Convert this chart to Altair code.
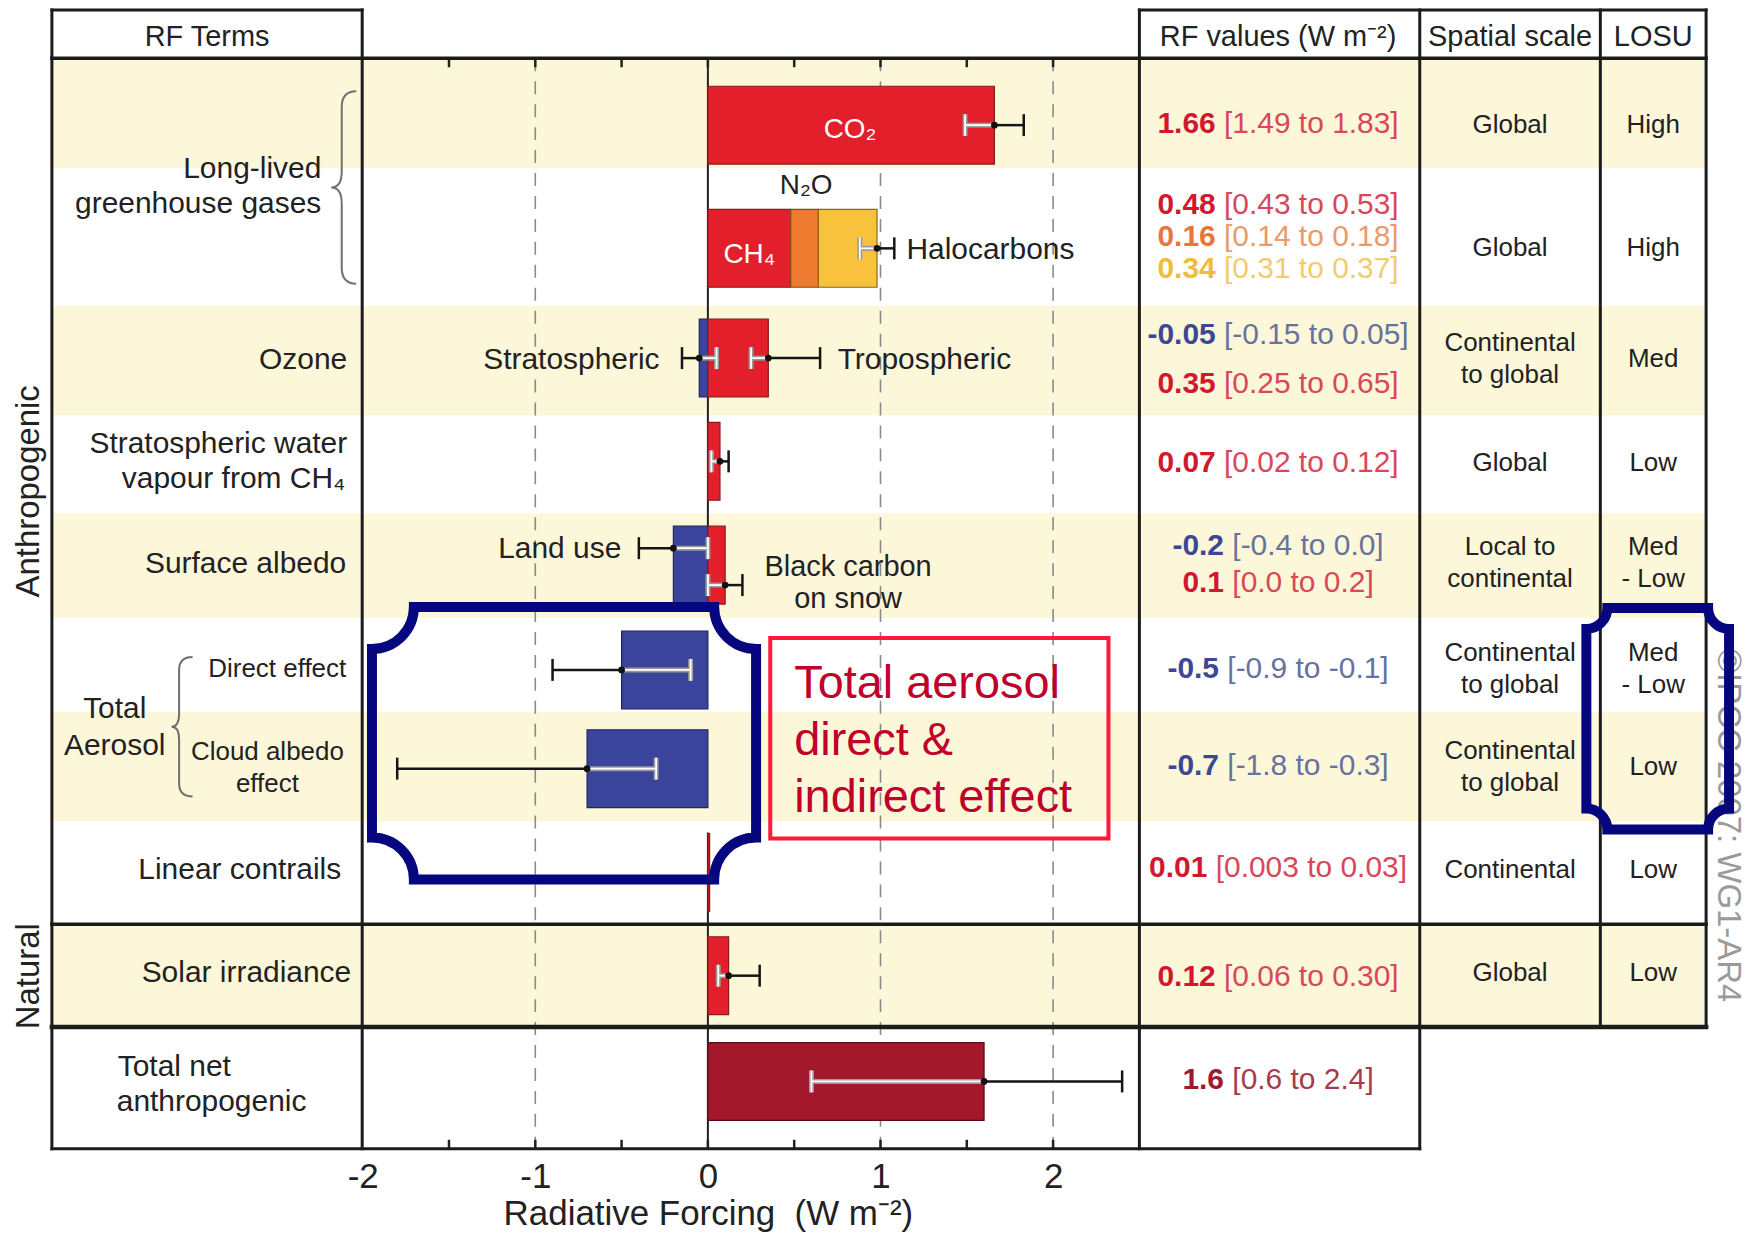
import altair as alt
import pandas as pd

# ------------------------------------------------------------------ data
terms = ["CO2", "CH4", "N2O", "Halocarbons", "Stratospheric ozone", "Tropospheric ozone",
         "Stratospheric water vapour from CH4", "Land use (surface albedo)",
         "Black carbon on snow (surface albedo)", "Aerosol direct effect",
         "Aerosol cloud albedo effect", "Linear contrails", "Solar irradiance",
         "Total net anthropogenic"]
rf_best = [1.66, 0.48, 0.16, 0.34, -0.05, 0.35, 0.07, -0.2, 0.1, -0.5, -0.7, 0.01, 0.12, 1.6]
rf_low = [1.49, 0.43, 0.14, 0.31, -0.15, 0.25, 0.02, -0.4, 0.0, -0.9, -1.8, 0.003, 0.06, 0.6]
rf_high = [1.83, 0.53, 0.18, 0.37, 0.05, 0.65, 0.12, 0.0, 0.2, -0.1, -0.3, 0.03, 0.30, 2.4]
rf_best_labels = ["1.66", "0.48", "0.16", "0.34", "-0.05", "0.35", "0.07", "-0.2", "0.1",
                  "-0.5", "-0.7", "0.01", "0.12", "1.6"]
rf_range_labels = ["[1.49 to 1.83]", "[0.43 to 0.53]", "[0.14 to 0.18]", "[0.31 to 0.37]",
                   "[-0.15 to 0.05]", "[0.25 to 0.65]", "[0.02 to 0.12]", "[-0.4 to 0.0]",
                   "[0.0 to 0.2]", "[-0.9 to -0.1]", "[-1.8 to -0.3]", "[0.003 to 0.03]",
                   "[0.06 to 0.30]", "[0.6 to 2.4]"]
term_row = [0, 1, 1, 1, 2, 2, 3, 4, 4, 5, 6, 7, 8, 9]
term_colour = ["red", "red", "orange", "yellow", "blue", "red", "red", "blue", "red",
               "blue", "blue", "red", "red", "darkred"]
term_whisker = [True, True, True, True, True, True, True, True, True, True, True, False, True, True]

spatial_scale = ["Global", "Global", "Continental\nto global", "Global", "Local to\ncontinental",
                 "Continental\nto global", "Continental\nto global", "Continental", "Global"]
losu = ["High", "High", "Med", "Low", "Med\n- Low", "Med\n- Low", "Low", "Low", "Low"]

headers = ["RF Terms", "RF values (W m⁻²)", "Spatial scale", "LOSU"]
left_labels = ["Long-lived", "greenhouse gases", "Ozone", "Stratospheric water", "vapour from CH₄",
               "Surface albedo", "Direct effect", "Total", "Aerosol", "Cloud albedo", "effect",
               "Linear contrails", "Solar irradiance", "Total net", "anthropogenic"]
group_labels = ["Anthropogenic", "Natural"]
plot_labels = ["CO₂", "N₂O", "CH₄", "Halocarbons", "Stratospheric", "Tropospheric", "Land use",
               "Black carbon", "on snow"]
note_lines = ["Total aerosol", "direct &", "indirect effect"]
watermark = "©IPCC 2007: WG1-AR4"
x_axis_values = [-2, -1, 0, 1, 2]
x_minor_ticks = [-1.5, -1, -0.5, 0, 0.5, 1, 1.5, 2]
grid_dashed = [-1, 1, 2]
x_title = "Radiative Forcing \u00a0(W m⁻²)"

# ------------------------------------------------------------------ layout / style
FONT = "Liberation Sans, Arial, Helvetica, sans-serif"
PX0, PXU = 709.5, 173.0          # page x of 0 W m-2, pixels per W m-2
CHART_W, CHART_H = 1745, 1224


def W(px):
    return (px - PX0) / PXU


X_DOMAIN = [W(8), W(8 + CHART_W)]
Y_DOMAIN = [8, 8 + CHART_H]

ROW_TOP = [57, 167, 305, 415, 513, 618, 712, 822, 925, 1028]
ROW_BOT = [167, 305, 415, 513, 618, 712, 822, 925, 1028, 1150]
ROW_YELLOW = [True, False, True, False, True, False, True, False, True, False]
BAR_MID = [124, 247.5, 357.5, 461, 565, 670, 769, 873, 976.5, 1082.5]
BAR_HALF = 39
TEXT_MID = [123, 246, 357, 461, 562, 668, 766, 869, 973]
WHISKER_DY = [0, 0, 0, 0, 0, 0, 0, -17, 20, 0, 0, 0, 0, 0]
RF_BASE = [132, 213, 245, 277, 343, 392, 472, 555, 592, 678, 775, 878, 987, 1090]
TABLE_L, COL_PLOT_L, COL_RF_L, COL_SP_L, COL_LOSU_L, TABLE_R = 52, 363, 1142, 1423, 1604, 1710
TOP_Y, HEAD_Y, NAT_Y, NET_Y, BOT_Y = 8.5, 57, 925, 1028, 1150
RF_CENTER, SP_CENTER, LOSU_CENTER = 1281, 1513.5, 1657

YELLOW = "#fcf7d9"
INK = "#222222"
BAR_FILL = {"red": "#e21f2a", "orange": "#ef7b31", "yellow": "#f8c23c", "blue": "#3b449b", "darkred": "#a3182b"}
BAR_EDGE = {"red": "#8c1a1a", "orange": "#8c4a1a", "yellow": "#8c6a1a", "blue": "#1e2560", "darkred": "#5e0c16"}
RF_BOLD = {"red": "#d1182f", "orange": "#e5763c", "yellow": "#efbd3b", "blue": "#3c4893", "darkred": "#9e1a2e"}
RF_RANGE = {"red": "#d8475a", "orange": "#ea9a6b", "yellow": "#f2cc6e", "blue": "#68729e", "darkred": "#a83a4c"}
NAVY = "#06067e"

XS = alt.Scale(domain=X_DOMAIN, nice=False, zero=False)
YS = alt.Scale(domain=Y_DOMAIN, nice=False, zero=False, reverse=True)
# bottom axis drawn along the table's bottom edge (offset pulls it up from the plot bottom)
XAXIS = alt.Axis(values=x_axis_values, labelExpr="'' + datum.value", ticks=False, tickSize=0,
                 domain=False, grid=False, labelFont=FONT, labelFontSize=35, labelColor="#222222",
                 labelPadding=11, labelFlush=False, labelOverlap=False,
                 offset=BOT_Y - (8 + CHART_H),
                 title=x_title, titleFont=FONT, titleFontSize=35, titleFontWeight="normal",
                 titleColor="#222222", titleX=PX0 - 8, titleY=76, titleBaseline="alphabetic",
                 titleAlign="center")


def X(f):
    return alt.X(f, type="quantitative", scale=XS, axis=XAXIS)


def Y(f):
    return alt.Y(f, type="quantitative", scale=YS, axis=None)


# ------------------------------------------------------------------ backgrounds & lines
bg_df = pd.DataFrame([dict(x=W(TABLE_L), x2=W(TABLE_R), y=ROW_TOP[i], y2=ROW_BOT[i])
                      for i in range(len(ROW_TOP)) if ROW_YELLOW[i]])
bg = alt.Chart(bg_df).mark_rect(color=YELLOW).encode(x=X("x"), x2=alt.X2("x2"), y=Y("y"), y2=alt.Y2("y2"))

grid_df = pd.DataFrame([dict(x=g, y=HEAD_Y, y2=BOT_Y) for g in grid_dashed])
grid = alt.Chart(grid_df).mark_rule(color="#8a8a8a", strokeWidth=1.6, strokeDash=[13, 10]).encode(
    x=X("x"), y=Y("y"), y2=alt.Y2("y2"))

zero_df = pd.DataFrame([dict(x=0, y=HEAD_Y, y2=607), dict(x=0, y=833, y2=BOT_Y)])
zero = alt.Chart(zero_df).mark_rule(color=INK, strokeWidth=2).encode(x=X("x"), y=Y("y"), y2=alt.Y2("y2"))

tick_df = pd.DataFrame([dict(x=t, y=HEAD_Y, y2=HEAD_Y + 9) for t in x_minor_ticks] +
                       [dict(x=t, y=BOT_Y - 9, y2=BOT_Y) for t in x_minor_ticks])
ticks = alt.Chart(tick_df).mark_rule(color=INK, strokeWidth=2.5).encode(x=X("x"), y=Y("y"), y2=alt.Y2("y2"))

# ------------------------------------------------------------------ bars
bar_rows, cum = [], {}
groups = {}
for i, t in enumerate(terms):
    key = (term_row[i], rf_best[i] >= 0)
    s = cum.get(key, 0.0)
    e = s + rf_best[i]
    cum[key] = e
    r = term_row[i]
    bar_rows.append(dict(term=t, x=s, x2=e, y=BAR_MID[r] - BAR_HALF, y2=BAR_MID[r] + BAR_HALF,
                         fill=BAR_FILL[term_colour[i]], stroke=BAR_EDGE[term_colour[i]]))
    g = groups.setdefault(key, dict(best=0.0, low=0.0, high=0.0, show=True, y=BAR_MID[r] + WHISKER_DY[i]))
    g["best"] += rf_best[i]
    g["low"] += rf_low[i]
    g["high"] += rf_high[i]
    g["show"] = g["show"] and term_whisker[i]
bars = alt.Chart(pd.DataFrame(bar_rows)).mark_rect(strokeWidth=1.2).encode(
    x=X("x"), x2=alt.X2("x2"), y=Y("y"), y2=alt.Y2("y2"),
    fill=alt.Fill("fill:N", scale=None), stroke=alt.Stroke("stroke:N", scale=None))

# ------------------------------------------------------------------ whiskers
CAP = 11
dark_seg, light_seg, dots = [], [], []
for g in groups.values():
    if not g["show"]:
        continue
    b, lo, hi, y = round(g["best"], 3), round(g["low"], 3), round(g["high"], 3), g["y"]
    outer, inner = (lo, hi) if b < 0 else (hi, lo)
    dark_seg += [dict(x=b, x2=outer, y=y, y2=y), dict(x=outer, x2=outer, y=y - CAP, y2=y + CAP)]
    light_seg += [dict(x=b, x2=inner, y=y, y2=y), dict(x=inner, x2=inner, y=y - CAP, y2=y + CAP)]
    dots.append(dict(x=b, y=y))


def seg_layer(rows, colour, width):
    return alt.Chart(pd.DataFrame(rows)).mark_rule(color=colour, strokeWidth=width).encode(
        x=X("x"), x2=alt.X2("x2"), y=Y("y"), y2=alt.Y2("y2"))


light_a = seg_layer(light_seg, "#9a9a9a", 5)
light_b = seg_layer(light_seg, "#ffffff", 1.8)
dark = seg_layer(dark_seg, "#151515", 2.5)
dot = alt.Chart(pd.DataFrame(dots)).mark_point(filled=True, size=45, color="#111111", opacity=1).encode(
    x=X("x"), y=Y("y"))

# ------------------------------------------------------------------ table borders
border_rows = [
    dict(x=W(TABLE_L), x2=W(COL_PLOT_L), y=TOP_Y, y2=TOP_Y, w=3),
    dict(x=W(COL_RF_L), x2=W(TABLE_R), y=TOP_Y, y2=TOP_Y, w=3),
    dict(x=W(TABLE_L), x2=W(TABLE_R), y=HEAD_Y, y2=HEAD_Y, w=3.5),
    dict(x=W(TABLE_L), x2=W(TABLE_R), y=NAT_Y, y2=NAT_Y, w=3.5),
    dict(x=W(TABLE_L), x2=W(TABLE_R), y=NET_Y, y2=NET_Y, w=4.5),
    dict(x=W(TABLE_L), x2=W(COL_SP_L), y=BOT_Y, y2=BOT_Y, w=3),
]
for cx, bottom in [(TABLE_L, BOT_Y), (COL_PLOT_L, BOT_Y), (COL_RF_L, BOT_Y), (COL_SP_L, BOT_Y),
                   (COL_LOSU_L, NET_Y), (TABLE_R, NET_Y)]:
    border_rows.append(dict(x=W(cx), x2=W(cx), y=TOP_Y, y2=bottom, w=3))
borders = alt.Chart(pd.DataFrame(border_rows)).mark_rule(color="#1c1c1c", strokeCap="square").encode(
    x=X("x"), x2=alt.X2("x2"), y=Y("y"), y2=alt.Y2("y2"), strokeWidth=alt.StrokeWidth("w:Q", scale=None))

# ------------------------------------------------------------------ texts
texts = []


def add(t, xp, y, size, colour=INK, align="center", weight="normal", angle=0, baseline="alphabetic"):
    texts.append(dict(text=t, x=W(xp), y=y, size=size, color=colour, align=align,
                      weight=weight, angle=angle, baseline=baseline))


for h, xp in zip(headers, [(TABLE_L + COL_PLOT_L) / 2, RF_CENTER, SP_CENTER, LOSU_CENTER]):
    add(h, xp, 45, 29, "#222222")

left_layout = [(322, 177, 30, "right"), (322, 212, 30, "right"), (348, 368, 30, "right"),
               (348, 453, 30, "right"), (346, 488, 30, "right"), (347, 573, 30, "right"),
               (347, 677, 26, "right"), (115, 718, 30, "center"), (115, 755, 30, "center"),
               (268, 760, 26, "center"), (268, 792, 26, "center"), (342, 880, 30, "right"),
               (352, 983, 30, "right"), (118, 1077, 30, "left"), (117, 1112, 30, "left")]
for lab, (xp, y, s, a) in zip(left_labels, left_layout):
    add(lab, xp, y, s, align=a)

for lab, y in zip(group_labels, [491, 977]):
    add(lab, 29, y, 33, angle=270, baseline="middle")

plot_layout = [(852, 137, 28, "center", "#ffffff"), (808, 193, 28, "center", INK),
               (751, 262, 28, "center", "#ffffff"), (908.5, 258, 30, "left", INK),
               (661, 368, 30, "right", INK), (839.6, 368, 30, "left", INK),
               (622.7, 558, 30, "right", INK), (850, 576, 29, "center", INK),
               (850, 608, 29, "center", INK)]
for lab, (xp, y, s, a, c) in zip(plot_labels, plot_layout):
    add(lab, xp, y, s, c, align=a)

# RF value column: bold best estimate + range, centred together
REG = {".": .278, "[": .278, "]": .278, " ": .278, "t": .278, "o": .556, "-": .333}
RF_FS = 30


def width(s):
    return sum(REG.get(ch, .556) for ch in s) * RF_FS


for i in range(len(terms)):
    wb, wr, sp = width(rf_best_labels[i]), width(rf_range_labels[i]), .278 * RF_FS
    start = RF_CENTER - (wb + sp + wr) / 2
    add(rf_best_labels[i], start + wb, RF_BASE[i], RF_FS, RF_BOLD[term_colour[i]], align="right", weight="bold")
    add(rf_range_labels[i], start + wb + sp, RF_BASE[i], RF_FS, RF_RANGE[term_colour[i]], align="left")

LINE = 32
for col, xc in [(spatial_scale, SP_CENTER), (losu, LOSU_CENTER)]:
    for r, lab in enumerate(col):
        lines = lab.split("\n")
        for j, ln in enumerate(lines):
            add(ln, xc, TEXT_MID[r] + 9.3 - (len(lines) - 1) * LINE / 2 + j * LINE, 26)

for j, ln in enumerate(note_lines):
    add(ln, 796, 698 + 57 * j, 47, "#c0002b", align="left")

add(watermark, 1732, 826, 33, "#9a9a9a", angle=90, baseline="middle")

tdf = pd.DataFrame(texts)
text_layers = []
for (a, wgt, bl), sub in tdf.groupby(["align", "weight", "baseline"]):
    text_layers.append(alt.Chart(sub).mark_text(align=a, baseline=bl, font=FONT, fontWeight=wgt).encode(
        x=X("x"), y=Y("y"), text="text:N", color=alt.Color("color:N", scale=None),
        size=alt.Size("size:Q", scale=None), angle=alt.Angle("angle:Q", scale=None)))


# ------------------------------------------------------------------ braces, note box, brackets
def bracket_path(w, h, r):
    k = 0.5523 * r
    x0, x1, y0, y1 = -w / 2, w / 2, -h / 2, h / 2
    f = lambda v: f"{v:.2f}"
    return " ".join([
        f"M{f(x0 + r)},{f(y0)}", f"L{f(x1 - r)},{f(y0)}",
        f"C{f(x1 - r)},{f(y0 + k)} {f(x1 - k)},{f(y0 + r)} {f(x1)},{f(y0 + r)}",
        f"L{f(x1)},{f(y1 - r)}",
        f"C{f(x1 - k)},{f(y1 - r)} {f(x1 - r)},{f(y1 - k)} {f(x1 - r)},{f(y1)}",
        f"L{f(x0 + r)},{f(y1)}",
        f"C{f(x0 + r)},{f(y1 - k)} {f(x0 + k)},{f(y1 - r)} {f(x0)},{f(y1 - r)}",
        f"L{f(x0)},{f(y0 + r)}",
        f"C{f(x0 + k)},{f(y0 + r)} {f(x0 + r)},{f(y0 + k)} {f(x0 + r)},{f(y0)}", "Z"])


def brace_path(w, h, c, stem):
    xr, xl, xm = w / 2, -w / 2, stem
    f = lambda v: f"{v:.2f}"
    return " ".join([
        f"M{f(xr)},{f(-h / 2)}", f"Q{f(xm)},{f(-h / 2)} {f(xm)},{f(-h / 2 + c)}",
        f"L{f(xm)},{f(-c)}", f"Q{f(xm)},0 {f(xl)},0", f"Q{f(xm)},0 {f(xm)},{f(c)}",
        f"L{f(xm)},{f(h / 2 - c)}", f"Q{f(xm)},{f(h / 2)} {f(xr)},{f(h / 2)}"])


def shape_layer(path, xp, y, colour, sw):
    return alt.Chart(pd.DataFrame([dict(x=W(xp), y=y)])).mark_point(
        shape=path, size=4, filled=False, opacity=1, color=colour, strokeWidth=sw).encode(x=X("x"), y=Y("y"))


brace_big = shape_layer(brace_path(25, 193, 16, -2), 344.5, 186.5, "#707070", 2)
brace_small = shape_layer(brace_path(21, 140, 13, -3), 182.5, 727, "#707070", 2)
bracket_left = shape_layer(bracket_path(385, 273, 42), 565.3, 743.5, NAVY, 10)
bracket_right = shape_layer(bracket_path(143, 222, 21), 1661.5, 719, NAVY, 10)

note_box = alt.Chart(pd.DataFrame([dict(x=W(772), x2=W(1111), y=638, y2=839)])).mark_rect(
    filled=False, color="#ff1a3c", strokeWidth=4).encode(x=X("x"), x2=alt.X2("x2"), y=Y("y"), y2=alt.Y2("y2"))

layers = [bg, grid, zero, ticks, bars, light_a, light_b, dark, dot, borders] + text_layers + \
         [brace_big, brace_small, note_box, bracket_left, bracket_right]

chart = alt.layer(*layers).properties(
    width=CHART_W, height=CHART_H, padding=0, autosize=alt.AutoSizeParams(type="none"),
    background="#ffffff"
).configure_view(strokeWidth=0)

chart.save("out.html", embed_options={"renderer": "svg", "actions": False})
